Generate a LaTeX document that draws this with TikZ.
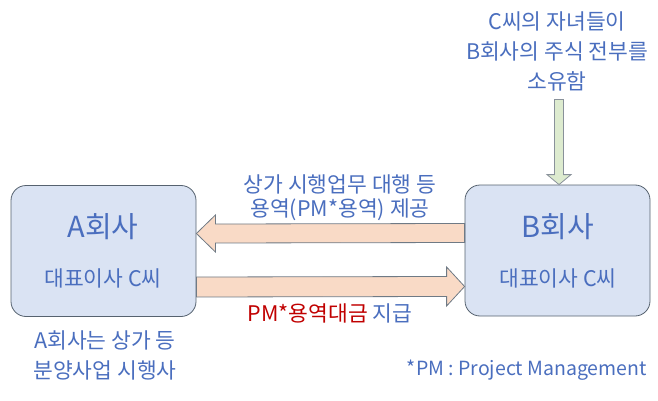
\documentclass[tikz,border=0pt]{standalone}
\usepackage{fontspec}
\setmainfont{Noto Sans CJK KR}
\usepackage{tikz}
\usetikzlibrary{calc}
\definecolor{txtblue}{HTML}{4A6EBE}
\definecolor{pmred}{HTML}{C00000}
\definecolor{boxfill}{HTML}{DAE3F3}
\definecolor{boxline}{HTML}{56626F}
\definecolor{peach}{HTML}{F9DAC6}
\definecolor{lightgreen}{HTML}{DDEBCF}
\tikzset{company/.style={draw=boxline,fill=boxfill,rounded corners=15pt,minimum width=185pt,minimum height=131pt,line width=0.8pt},
  blockarrow/.style={draw=boxline!85,line width=0.8pt,line join=miter},
  bigtxt/.style={font=\fontsize{29}{34}\selectfont},
  midtxt/.style={font=\fontsize{21.5}{23}\selectfont}}

\begin{document}
\begin{tikzpicture}[x=1pt,y=-1pt,every node/.style={text=txtblue,inner sep=0pt}]
\useasboundingbox (0,0) rectangle (658,401);
\node[company] (A) at (103.5,251) {};
\node[company] (B) at (557.5,250.5) {};
\node[bigtxt] (Aname) at (103,227) {A회사};
\node[midtxt] (Aceo) at (103,278) {대표이사 C씨};
\node[bigtxt] (Bname) at (558,227) {B회사};
\node[midtxt] (Bceo) at (558,278) {대표이사 C씨};

\draw[blockarrow,fill=peach] ($(A.east)+(0,-17.5)$) -- ++(19,-18.5) -- ++(0,9)
  -- ($(B.west)+(0,-27)$) -- ($(B.west)+(0,-8)$) -- ($(A.east)+(19,-8)$) -- ++(0,9) -- cycle;
\draw[blockarrow,fill=peach] ($(A.east)+(0,26)$) -- ($(B.west)+(-18,26)$) -- ++(0,-9.5)
  -- ($(B.west)+(0,36)$) -- ($(B.west)+(-18,55.5)$) -- ++(0,-9.5) -- ($(A.east)+(0,46)$) -- cycle;

\node[midtxt,align=center,font=\fontsize{21.5}{24}\selectfont] (svc) at (340,198) {상가 시행업무 대행 등\\용역(PM*용역) 제공};
\node[midtxt] (pay) at (330,313) {\textcolor{pmred}{PM*용역대금} 지급};

\node[midtxt,align=center,font=\fontsize{21.5}{30}\selectfont] (owner) at (557,51) {C씨의 자녀들이\\B회사의 주식 전부를\\소유함};
\draw[blockarrow,draw=boxline!70,fill=lightgreen] ($(B.north)+(-3,-85)$) -- ++(9,0) -- ++(0,75) -- ++(7.5,0)
  -- ($(B.north)+(1.5,0)$) -- ++(-12,-10) -- ++(7.5,0) -- cycle;

\node[midtxt,align=center,font=\fontsize{21.5}{30}\selectfont] (Anote) at (105,355) {A회사는 상가 등\\분양사업 시행사};
\node[anchor=east,font=\fontsize{19.5}{23}\selectfont] (pmnote) at (647,370) {*PM : Project Management};
\end{tikzpicture}
\end{document}
